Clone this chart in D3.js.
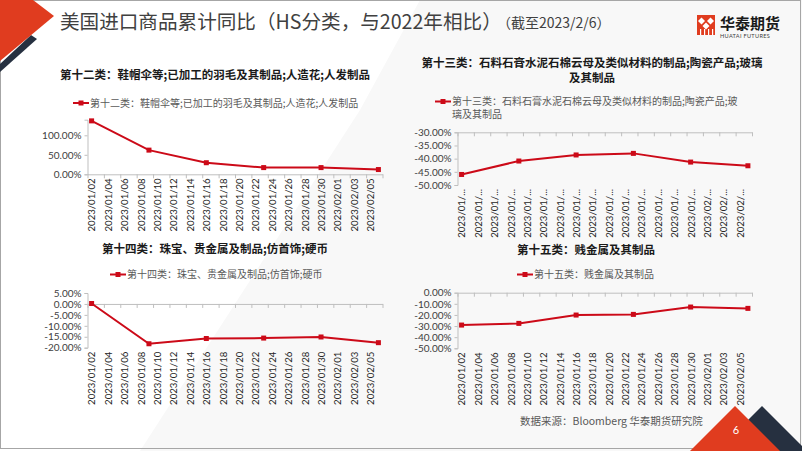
<!DOCTYPE html>
<html>
<head>
<meta charset="utf-8">
<script src="https://cdn.jsdelivr.net/npm/d3@7"></script>
<style>
  html, body { margin: 0; padding: 0; background: #fff; }
  svg { display: block; }
  .cjk { font-family: "Noto Sans CJK SC", sans-serif; }
  .num { font-family: Lato, "Liberation Sans", sans-serif; }
</style>
</head>
<body>
<svg id="slide" width="802" height="451"></svg>
<script>
// weekly observation dates (Mondays)
const dates = ["2023/01/02", "2023/01/09", "2023/01/16", "2023/01/23", "2023/01/30", "2023/02/06"];
// category axis labels, every 2 days
const tickLabels = ["2023/01/02", "2023/01/04", "2023/01/06", "2023/01/08", "2023/01/10", "2023/01/12",
  "2023/01/14", "2023/01/16", "2023/01/18", "2023/01/20", "2023/01/22", "2023/01/24", "2023/01/26",
  "2023/01/28", "2023/01/30", "2023/02/01", "2023/02/03", "2023/02/05"];

const s12 = [1.37, 0.62, 0.297, 0.172, 0.172, 0.122];
const s13 = [-0.460, -0.409, -0.386, -0.380, -0.413, -0.427];
const s14 = [0.002, -0.182, -0.158, -0.156, -0.151, -0.177];
const s15 = [-0.291, -0.276, -0.201, -0.195, -0.129, -0.141];

const yTicks12 = [0, 0.5, 1];
const yTicks13 = [-0.5, -0.45, -0.4, -0.35, -0.3];
const yTicks14 = [-0.2, -0.15, -0.1, -0.05, 0, 0.05];
const yTicks15 = [-0.5, -0.4, -0.3, -0.2, -0.1, 0];

const titles = [
  ["第十二类：鞋帽伞等;已加工的羽毛及其制品;人造花;人发制品"],
  ["第十三类：石料石膏水泥石棉云母及类似材料的制品;陶瓷产品;玻璃", "及其制品"],
  ["第十四类：珠宝、贵金属及制品;仿首饰;硬币"],
  ["第十五类：贱金属及其制品"]
];
const legends = [
  ["第十二类：鞋帽伞等;已加工的羽毛及其制品;人造花;人发制品"],
  ["第十三类：石料石膏水泥石棉云母及类似材料的制品;陶瓷产品;玻", "璃及其制品"],
  ["第十四类：珠宝、贵金属及制品;仿首饰;硬币"],
  ["第十五类：贱金属及其制品"]
];

const RED = "#cc0a18";
const AXIS = "#bfbfbf";
const parse = d3.timeParse("%Y/%m/%d");
const pct = d => (Math.abs(d) < 1e-9 ? 0 : d * 100).toFixed(2) + "%";

const svg = d3.select("#slide");

// background
svg.append("polygon")
  .attr("points", "140,451 360,110 420,0 802,0 802,451")
  .attr("fill", "#f8f8f8");
svg.append("rect").attr("x", 0.5).attr("y", 0.5).attr("width", 800).attr("height", 448)
  .attr("fill", "none").attr("stroke", "#a6a6a6");

// top-left decoration
svg.append("polygon").attr("points", "31,35 37,39 0,72 0,64").attr("fill", "#263040");
svg.append("polygon").attr("points", "0,0 33,0 54,16 0,61").attr("fill", "#e03c1f");

// heading
svg.append("text").attr("class", "cjk").attr("x", 60).attr("y", 29)
  .attr("font-size", 19.6).attr("fill", "#404040")
  .text("美国进口商品累计同比（HS分类，与2022年相比）");
svg.append("text").attr("class", "cjk").attr("x", 497).attr("y", 28)
  .attr("font-size", 14).attr("fill", "#404040")
  .text("（截至2023/2/6）");

// logo
const logo = svg.append("g").attr("transform", "translate(697,15)");
logo.append("rect").attr("width", 18).attr("height", 20).attr("fill", "#e03c1f");
[[4.5, 6], [13.5, 6], [9, 11]].forEach(([cx, cy]) => {
  logo.append("polygon")
    .attr("points", `${cx},${cy - 3.5} ${cx + 3.5},${cy} ${cx},${cy + 3.5} ${cx - 3.5},${cy}`)
    .attr("fill", "#fff");
});
[3, 7, 11, 15].forEach(x => logo.append("rect").attr("x", x).attr("y", 14).attr("width", 1.2).attr("height", 6).attr("fill", "#fff"));
svg.append("text").attr("class", "cjk").attr("x", 720).attr("y", 29)
  .attr("font-size", 15).attr("font-weight", "bold").attr("fill", "#1a1a1a").text("华泰期货");
svg.append("text").attr("class", "num").attr("x", 720).attr("y", 37.5)
  .attr("font-size", 5.6).attr("fill", "#404040").attr("letter-spacing", 0.3).text("HUATAI FUTURES");

// footer
svg.append("text").attr("class", "cjk").attr("x", 520).attr("y", 425)
  .attr("font-size", 10.5).attr("fill", "#595959").text("数据来源：Bloomberg 华泰期货研究院");
svg.append("polygon").attr("points", "762,406 807,451 717,451").attr("fill", "#263040");
svg.append("polygon").attr("points", "735,406 780,451 690,451").attr("fill", "#e03c1f");
svg.append("text").attr("class", "num").attr("x", 736).attr("y", 434).attr("text-anchor", "middle")
  .attr("font-size", 11).attr("fill", "#fff").text("6");

const charts = [
  { values: s12, yt: yTicks12, dom: [0, 1.4], xr: [87.5, 382.5], yr: [174.3, 119.7], cross: 0,
    title: titles[0], tx: 215, ty: 79, legend: legends[0], lx: 73, ly: 103, trunc: false },
  { values: s13, yt: yTicks13, dom: [-0.5, -0.3], xr: [457.5, 752], yr: [185, 132.3], cross: -0.3,
    title: titles[1], tx: 592, ty: 67, legend: legends[1], lx: 435, ly: 101.5, trunc: true },
  { values: s14, yt: yTicks14, dom: [-0.2, 0.05], xr: [87.5, 382.5], yr: [347.7, 293], cross: 0,
    title: titles[2], tx: 215, ty: 253, legend: legends[2], lx: 110, ly: 274.5, trunc: false },
  { values: s15, yt: yTicks15, dom: [-0.5, 0], xr: [457.5, 752], yr: [348.3, 292.7], cross: 0,
    title: titles[3], tx: 586, ty: 254, legend: legends[3], lx: 517, ly: 274.5, trunc: false }
];

const t0 = parse(dates[0]);
const dayMs = 864e5;
const start = new Date(+t0 - dayMs / 2);
const end = new Date(+parse(dates[dates.length - 1]) + dayMs / 2);
// tick marks sit between day slots, every 2 days
const boundaries = d3.range(0, 19).map(i => new Date(+start + i * 2 * dayMs));

charts.forEach(c => {
  const g = svg.append("g");
  const x = d3.scaleTime().domain([start, end]).range(c.xr);
  const y = d3.scaleLinear().domain(c.dom).range(c.yr);

  // title (one text, wrapped lines as tspans)
  const tt = g.append("text").attr("class", "cjk").attr("x", c.tx).attr("y", c.ty)
    .attr("text-anchor", "middle").attr("font-size", 11.5).attr("font-weight", "bold")
    .attr("fill", "#1a1a1a");
  c.title.forEach((t, i) => {
    tt.append("tspan").attr("x", c.tx).attr("y", c.ty + i * 14.5).text(t);
  });

  // legend
  g.append("line").attr("x1", c.lx).attr("x2", c.lx + 16).attr("y1", c.ly).attr("y2", c.ly)
    .attr("stroke", RED).attr("stroke-width", 2);
  g.append("rect").attr("x", c.lx + 5.5).attr("y", c.ly - 2.5).attr("width", 5).attr("height", 5).attr("fill", RED);
  const lt = g.append("text").attr("class", "cjk").attr("font-size", 10).attr("fill", "#595959");
  c.legend.forEach((t, i) => {
    lt.append("tspan").attr("x", c.lx + 17).attr("y", c.ly + 3.5 + i * 12.5).text(t);
  });

  // y axis
  const ya = g.append("g").attr("transform", `translate(${c.xr[0]},0)`)
    .call(d3.axisLeft(y).tickValues(c.yt).tickFormat(pct).tickSize(3).tickPadding(3));
  ya.select(".domain").attr("stroke", AXIS);
  ya.selectAll(".tick line").attr("stroke", AXIS);
  ya.selectAll("text").attr("class", "num").attr("font-size", 10).attr("fill", "#404040");

  // x axis line + tick marks at the crossing value
  const xa = g.append("g").attr("transform", `translate(0,${y(c.cross)})`)
    .call(d3.axisBottom(x).tickValues(boundaries).tickFormat("").tickSizeInner(4).tickSizeOuter(0));
  xa.select(".domain").attr("stroke", AXIS);
  xa.selectAll(".tick line").attr("stroke", AXIS);

  // x labels at the bottom of the plot
  const xl = g.append("g").attr("transform", `translate(0,${c.yr[0]})`)
    .call(d3.axisBottom(x).tickValues(tickLabels.map(parse)).tickSize(0)
      .tickFormat(d => {
        const s = d3.timeFormat("%Y/%m/%d")(d);
        return c.trunc ? s.slice(0, 8) + "..." : s;
      }));
  xl.select(".domain").remove();
  xl.selectAll("text").attr("class", "num").attr("font-size", 9.6).attr("fill", "#262626")
    .attr("text-anchor", "end").attr("transform", "rotate(-90)")
    .attr("x", -4).attr("y", 0).attr("dy", "0.35em");

  // series
  const pts = dates.map((d, i) => [parse(d), c.values[i]]);
  g.append("path").datum(pts)
    .attr("fill", "none").attr("stroke", RED).attr("stroke-width", 2)
    .attr("d", d3.line().x(d => x(d[0])).y(d => y(d[1])));
  g.selectAll(".mk").data(pts).join("rect")
    .attr("x", d => x(d[0]) - 2.5).attr("y", d => y(d[1]) - 2.5)
    .attr("width", 5).attr("height", 5).attr("fill", RED);
});
</script>
</body>
</html>
